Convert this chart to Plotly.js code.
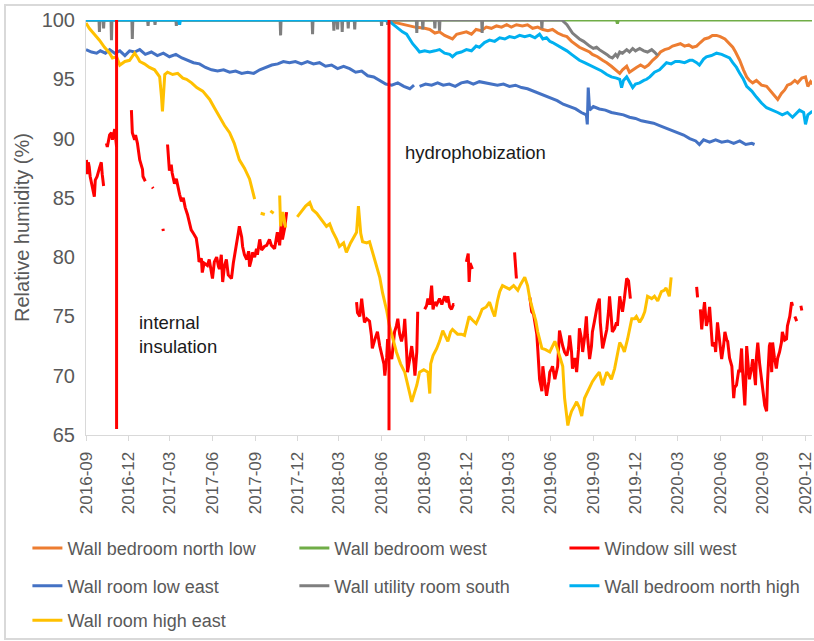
<!DOCTYPE html>
<html>
<head>
<meta charset="utf-8">
<script src="https://cdn.plot.ly/plotly-3.0.1.min.js"></script>
<style>
html,body{margin:0;padding:0;background:#fff;overflow:hidden;width:814px;height:641px;}
#chart{position:absolute;left:0;top:0;width:814px;height:641px;}
#frame{position:absolute;left:4px;top:4px;width:900px;height:632px;border:2px solid #d9d9d9;pointer-events:none;z-index:5;}
</style>
</head>
<body>
<div id="chart"></div>
<div id="frame"></div>
<script>
// ---- Data ----
const seriesNames = ['Wall bedroom north low','Wall bedroom west','Window sill west','Wall room low east','Wall utility room south','Wall bedroom north high','Wall room high east'];
const seriesColors = ['#ED7D31','#70AD47','#FF0000','#4472C4','#7F7F7F','#00B0F0','#FFC000'];

const orangeDates = ['2016-09-01','2018-06-17','2018-06-29','2018-07-21','2018-08-12','2018-09-02','2018-09-13','2018-09-24','2018-10-04','2018-10-15','2018-10-26','2018-11-01','2018-11-10','2018-11-20','2018-12-01','2018-12-12','2018-12-22','2019-01-02','2019-01-13','2019-01-24','2019-02-04','2019-02-15','2019-02-26','2019-03-08','2019-03-19','2019-04-01','2019-04-12','2019-04-23','2019-05-04','2019-05-15','2019-05-26','2019-06-05','2019-06-16','2019-06-27','2019-07-06','2019-07-16','2019-07-25','2019-08-02','2019-08-13','2019-08-24','2019-08-30','2019-09-10','2019-09-21','2019-09-30','2019-10-10','2019-10-19','2019-10-28','2019-11-03','2019-11-12','2019-11-18','2019-11-25','2019-12-03','2019-12-12','2019-12-21','2019-12-29','2020-01-07','2020-01-16','2020-01-24','2020-02-02','2020-02-11','2020-02-19','2020-02-27','2020-03-07','2020-03-16','2020-03-25','2020-04-02','2020-04-11','2020-04-19','2020-04-28','2020-05-07','2020-05-15','2020-05-24','2020-06-01','2020-06-11','2020-06-19','2020-06-28','2020-07-04','2020-07-13','2020-07-21','2020-07-28','2020-08-03','2020-08-10','2020-08-18','2020-08-29','2020-09-09','2020-09-17','2020-09-26','2020-10-03','2020-10-11','2020-10-18','2020-10-24','2020-10-31','2020-11-09','2020-11-15','2020-11-24','2020-12-02','2020-12-07','2020-12-13','2020-12-17'];
const orangeVals = [100,100,99.8,99.6,99.4,99.3,99.2,98.9,99.0,98.7,98.5,98.4,98.8,98.9,99.0,98.8,99.2,99.1,99.4,99.3,99.5,99.4,99.6,99.4,99.6,99.5,99.6,99.3,99.4,99.2,99.1,99.2,98.9,98.7,98.6,98.2,97.9,97.7,97.5,97.3,97.1,96.9,96.6,96.4,96.1,95.8,95.5,95.8,96.1,95.6,95.8,96.0,96.2,96.0,96.2,96.6,96.9,97.3,97.5,97.6,97.8,97.9,98.0,97.8,97.9,97.7,97.8,98.1,98.4,98.5,98.7,98.7,98.6,98.4,98.1,97.7,97.3,96.6,95.8,95.2,94.9,94.7,94.9,94.5,94.4,94.0,93.6,93.3,93.8,94.1,94.5,94.6,94.9,94.7,95.1,95.2,94.4,94.8,94.6];

const greenDates = ['2016-09-01','2019-10-21','2019-10-23','2019-10-25','2020-12-17'];
const greenVals = [100,100,99.7,100,100];

const redDates = ['2016-09-02','2016-09-04','2016-09-06','2016-09-08','2016-09-10','2016-09-15','2016-09-19','2016-09-21','2016-09-25','2016-09-30','2016-10-04','2016-10-06','2016-10-09','2016-10-12',
'2016-10-15','2016-10-17','2016-10-22','2016-10-26','2016-10-28','2016-11-02','2016-11-06','2016-11-20',
'2016-12-08','2016-12-10','2016-12-15','2016-12-17','2016-12-21','2016-12-26','2017-01-01','2017-01-02','2017-01-07','2017-01-15',
'2017-01-22','2017-01-24','2017-02-03',
'2017-02-14','2017-02-15','2017-02-20',
'2017-02-24','2017-02-26','2017-02-28','2017-03-04','2017-03-06','2017-03-11','2017-03-15','2017-03-22','2017-03-26','2017-03-30','2017-04-03','2017-04-08','2017-04-12','2017-04-16','2017-04-21','2017-04-27','2017-05-01','2017-05-03','2017-05-08','2017-05-10','2017-05-14','2017-05-21','2017-05-25','2017-06-01','2017-06-05','2017-06-10','2017-06-14','2017-06-16','2017-06-20','2017-06-23','2017-06-27','2017-07-01','2017-07-05','2017-07-12','2017-07-16','2017-07-20','2017-07-23','2017-07-27','2017-07-29','2017-08-03','2017-08-05','2017-08-09','2017-08-14','2017-08-18','2017-08-20','2017-08-24','2017-08-26','2017-08-31','2017-09-04','2017-09-06','2017-09-11','2017-09-15','2017-09-21','2017-09-26','2017-10-02','2017-10-06','2017-10-13','2017-10-17','2017-10-19','2017-10-24','2017-10-28','2017-10-30','2017-11-04','2017-11-08','2017-11-20',
'2018-04-08','2018-04-10','2018-04-15','2018-04-19','2018-04-21','2018-04-25','2018-04-30','2018-05-06','2018-05-10','2018-05-12','2018-05-17','2018-05-23','2018-05-28','2018-06-01','2018-06-06','2018-06-08','2018-06-12','2018-06-14','2018-06-18','2018-06-23','2018-06-27','2018-06-29','2018-07-03','2018-07-06','2018-07-10','2018-07-14','2018-07-19','2018-07-21','2018-07-25','2018-07-27','2018-08-01','2018-08-05','2018-08-10','2018-08-12','2018-08-16','2018-08-18','2018-08-25',
'2018-09-02','2018-09-06','2018-09-09','2018-09-13','2018-09-17','2018-09-20','2018-09-24','2018-09-28','2018-10-04','2018-10-09','2018-10-15','2018-10-20','2018-10-22','2018-10-26','2018-10-30','2018-11-03','2018-11-05','2018-11-15',
'2018-12-01','2018-12-03','2018-12-05','2018-12-07','2018-12-09','2018-12-14','2018-12-25',
'2019-03-15','2019-03-17','2019-03-19','2019-03-30',
'2019-04-17','2019-04-19','2019-04-21','2019-04-25','2019-04-27','2019-05-02','2019-05-04','2019-05-06','2019-05-08','2019-05-13','2019-05-15','2019-05-19','2019-05-23','2019-05-28','2019-05-30','2019-06-03','2019-06-05','2019-06-10','2019-06-12','2019-06-16','2019-06-20','2019-06-25','2019-06-27','2019-07-01','2019-07-06','2019-07-10','2019-07-12','2019-07-16','2019-07-18','2019-07-23','2019-07-27','2019-07-31','2019-08-02','2019-08-07','2019-08-09','2019-08-13','2019-08-17','2019-08-19','2019-08-24','2019-08-28','2019-08-30','2019-09-03','2019-09-08','2019-09-10','2019-09-14','2019-09-16','2019-09-21','2019-09-25','2019-09-30','2019-10-04','2019-10-06','2019-10-10','2019-10-12','2019-10-17','2019-10-21','2019-10-23','2019-10-28','2019-11-01','2019-11-03','2019-11-07','2019-11-12','2019-11-16','2019-11-18','2019-11-20','2019-12-10',
'2020-04-11','2020-04-13','2020-04-16',
'2020-04-19','2020-04-22','2020-04-24','2020-04-28','2020-05-02','2020-05-07','2020-05-09','2020-05-13','2020-05-15','2020-05-20','2020-05-22','2020-05-26','2020-05-31','2020-06-04','2020-06-08','2020-06-11','2020-06-15','2020-06-17','2020-06-21','2020-06-26','2020-06-30','2020-07-02','2020-07-06','2020-07-11','2020-07-13','2020-07-17','2020-07-19','2020-07-24','2020-07-26','2020-07-28','2020-08-01','2020-08-03','2020-08-08','2020-08-10','2020-08-14','2020-08-16','2020-08-18','2020-08-21','2020-08-25','2020-08-29','2020-09-02','2020-09-05','2020-09-09','2020-09-11','2020-09-15','2020-09-17','2020-09-20','2020-09-22','2020-09-26','2020-09-30','2020-10-03','2020-10-07','2020-10-11','2020-10-13','2020-10-18','2020-10-22','2020-10-24','2020-10-29','2020-11-02','2020-11-04','2020-11-06',
'2020-11-09','2020-11-13','2020-11-17',
'2020-11-22','2020-11-24'];
const redVals = [88.2,87.0,88.0,87.6,86.8,86.0,85.1,86.5,86.8,87.5,88.0,87.0,86.0,null,
89.6,89.3,90.3,90.5,89.9,90.8,89.3,null,
92.4,90.5,89.9,90.3,89.6,88.2,87.4,86.8,86.4,null,
85.9,85.8,null,
82.4,82.2,null,
89.5,88.5,87.3,87.8,87.1,86.2,86.6,85.3,84.7,85.0,84.2,83.6,82.9,82.3,82.0,81.6,80.5,79.6,79.9,78.7,79.5,79.3,79.8,78.2,79.6,80.0,79.2,79.0,80.2,77.9,79.3,79.8,78.5,78.2,79.5,80.6,81.3,82.1,82.6,81.7,80.9,80.2,79.8,80.5,79.2,79.8,80.4,80.0,80.7,80.2,81.5,80.6,80.9,81.0,81.5,81.0,80.7,81.6,82.1,81.0,83.2,81.5,82.5,83.8,null,
76.2,75.3,75.0,76.5,75.8,74.5,74.8,74.6,73.4,72.3,73.0,73.7,72.5,71.7,71.0,70.0,71.5,73.1,72.0,71.4,73.0,73.7,74.2,74.8,73.5,72.9,73.8,74.8,72.0,70.3,71.5,72.5,71.0,70.0,72.0,75.4,null,
75.6,75.9,76.5,76.0,77.6,75.6,76.2,76.0,76.5,76.0,76.7,76.2,76.7,75.8,75.6,76.0,76.0,null,
79.6,80.0,80.3,77.9,79.5,79.0,null,
80.4,79.5,78.2,null,
76.6,76.0,75.4,75.2,74.8,73.5,72.3,71.0,69.7,68.7,70.8,69.5,68.3,69.5,70.3,70.6,70.8,69.7,70.2,70.8,73.8,72.8,72.5,72.0,71.7,72.5,73.4,72.0,70.6,71.5,70.3,72.2,74.0,73.0,72.0,73.2,75.0,73.5,71.4,72.5,73.7,74.5,75.6,76.0,76.5,74.5,72.3,73.0,73.9,75.5,76.7,74.8,73.7,74.0,74.5,74.2,76.7,75.8,75.4,76.5,78.2,78.0,77.0,76.5,null,
77.5,76.6,null,
75.6,73.9,74.8,76.2,74.2,75.0,75.8,74.0,72.5,72.8,72.0,74.5,73.0,71.4,72.5,73.7,73.0,72.9,71.5,70.8,68.1,69.0,69.2,70.5,70.3,72.3,70.5,67.5,69.5,72.5,70.5,69.7,70.8,71.4,70.0,69.2,71.5,72.8,71.0,69.7,68.5,67.5,67.0,69.5,72.5,72.8,70.3,72.8,71.5,70.6,71.5,72.0,72.8,73.7,73.0,73.1,74.2,75.0,76.2,75.9,null,
75.0,74.6,null,
75.9,75.5];

const blueDates = ['2016-09-01','2016-09-13','2016-09-24','2016-10-02','2016-10-13','2016-10-22','2016-11-02','2016-11-13','2016-11-24','2016-12-04','2016-12-15','2016-12-26','2017-01-07','2017-01-20','2017-02-02','2017-02-15','2017-02-28','2017-03-14','2017-03-27','2017-04-08','2017-04-21','2017-05-04','2017-05-17','2017-05-30','2017-06-12','2017-06-25','2017-07-08','2017-07-21','2017-08-03','2017-08-16','2017-08-29','2017-09-11','2017-09-24','2017-10-07','2017-10-20','2017-11-01','2017-11-14','2017-11-27','2017-12-10','2017-12-23','2018-01-05','2018-01-18','2018-01-31','2018-02-13','2018-02-26','2018-03-11','2018-03-24','2018-04-06','2018-04-19','2018-05-02','2018-05-15','2018-05-28','2018-06-10','2018-06-23','2018-07-06','2018-07-19','2018-08-01','2018-08-10','2018-08-15','2018-08-22','2018-09-04','2018-09-17','2018-09-30','2018-10-12','2018-10-25','2018-11-07','2018-11-20','2018-12-03','2018-12-16','2018-12-29','2019-01-11','2019-01-24','2019-02-06','2019-02-19','2019-03-04','2019-03-17','2019-03-30','2019-04-12','2019-04-25','2019-05-08','2019-05-21','2019-06-03','2019-06-15','2019-06-28','2019-07-12','2019-07-25','2019-08-06','2019-08-17','2019-08-19','2019-08-21','2019-08-24','2019-09-01','2019-09-14','2019-09-27','2019-10-10','2019-10-23','2019-11-05','2019-11-18','2019-12-01','2019-12-14','2019-12-27','2020-01-09','2020-01-22','2020-02-04','2020-02-17','2020-03-01','2020-03-14','2020-03-27','2020-04-09','2020-04-17','2020-04-26','2020-05-09','2020-05-22','2020-06-04','2020-06-17','2020-06-30','2020-07-13','2020-07-26','2020-08-08','2020-08-14'];
const blueVals = [97.5,97.3,97.2,97.4,97.2,97.5,97.2,97.4,97.0,97.4,97.3,97.5,97.1,97.3,97.0,97.2,96.9,97.1,96.8,96.6,96.4,96.3,96.0,95.8,95.7,95.8,95.6,95.7,95.5,95.6,95.5,95.8,96.0,96.2,96.3,96.5,96.4,96.5,96.3,96.5,96.3,96.4,96.1,96.2,95.9,96.1,95.9,95.6,95.7,95.3,95.2,94.9,94.6,94.5,94.7,94.4,94.2,94.5,null,94.4,94.6,94.5,94.7,94.5,94.6,94.4,94.7,94.8,94.6,94.8,94.7,94.6,94.5,94.6,94.4,94.5,94.3,94.2,94.0,93.8,93.6,93.4,93.2,92.9,92.7,92.5,92.2,92.0,91.2,94.3,92.4,92.7,92.5,92.4,92.2,92.1,92.0,91.8,91.7,91.5,91.4,91.3,91.1,90.9,90.7,90.5,90.3,90.0,89.8,89.5,89.9,89.7,89.9,89.7,89.8,89.6,89.8,89.5,89.6,89.5];

const greyDates = ['2016-09-01','2016-09-29','2016-09-30','2016-10-01','2016-10-08','2016-10-09','2016-10-10','2016-10-25','2016-10-26','2016-10-27','2016-12-09','2016-12-10','2016-12-11','2017-01-12','2017-01-13','2017-01-14','2017-01-27','2017-01-28','2017-01-29','2017-03-14','2017-03-15','2017-03-16','2017-10-25','2017-10-26','2017-10-27','2018-01-02','2018-01-03','2018-01-04','2018-02-17','2018-02-18','2018-02-19','2018-02-25','2018-02-26','2018-02-27','2018-03-07','2018-03-08','2018-03-09','2018-03-20','2018-03-21','2018-03-22','2018-04-03','2018-04-04','2018-04-05','2018-05-31','2018-06-01','2018-06-02','2018-06-13','2018-06-14','2018-06-15','2018-08-15','2018-08-16','2018-08-17','2018-08-28','2018-08-29','2018-08-30','2018-09-23','2018-09-24','2018-09-25','2018-10-03','2018-10-04','2018-10-05','2019-01-03','2019-01-04','2019-01-05','2019-05-12','2019-05-13','2019-05-14','2019-06-25','2019-07-06','2019-07-12','2019-07-18','2019-07-27','2019-08-02','2019-08-11','2019-08-17','2019-08-24','2019-09-01','2019-09-08','2019-09-14','2019-09-23','2019-09-30','2019-10-06','2019-10-12','2019-10-19','2019-10-23','2019-10-28','2019-11-03','2019-11-12','2019-11-18','2019-11-25','2019-12-01','2019-12-10','2019-12-19','2019-12-27','2020-01-05','2020-01-11','2020-01-18'];
const greyVals = [100,100,99.0,100,100,99.3,100,100,98.3,100,100,98.4,100,100,99.5,100,100,99.6,100,100,99.5,100,100,98.7,100,100,98.8,100,100,99.1,100,100,99.2,100,100,99.0,100,100,99.3,100,100,99.2,100,100,99.5,100,100,99.6,100,100,98.9,100,100,99.2,100,100,99.3,100,100,99.1,100,100,98.9,100,100,99.3,100,100,99.6,99.2,98.9,98.6,98.4,98.2,98.0,97.8,97.6,97.7,97.5,97.3,97.1,96.9,96.8,97.1,96.9,97.3,97.2,97.5,97.3,97.6,97.4,97.6,97.4,97.3,97.5,97.3,97.0];

const lightBlueDates = ['2016-09-01','2017-03-20','2017-03-22','2017-03-24','2018-06-07','2018-06-18','2018-06-24','2018-07-03','2018-07-10','2018-07-16','2018-07-25','2018-08-01','2018-08-07','2018-08-16','2018-08-22','2018-09-02','2018-09-13','2018-09-24','2018-10-04','2018-10-15','2018-10-26','2018-11-01','2018-11-10','2018-11-20','2018-12-01','2018-12-12','2018-12-22','2018-12-29','2019-01-09','2019-01-20','2019-01-31','2019-02-11','2019-02-22','2019-03-04','2019-03-15','2019-03-26','2019-04-06','2019-04-17','2019-04-28','2019-05-08','2019-05-15','2019-05-23','2019-05-30','2019-06-05','2019-06-14','2019-06-25','2019-07-06','2019-07-16','2019-07-25','2019-08-02','2019-08-13','2019-08-24','2019-08-30','2019-09-08','2019-09-19','2019-09-30','2019-10-10','2019-10-21','2019-10-28','2019-11-01','2019-11-05','2019-11-12','2019-11-18','2019-11-25','2019-12-01','2019-12-10','2019-12-19','2019-12-25','2020-01-01','2020-01-11','2020-01-22','2020-01-29','2020-02-06','2020-02-16','2020-02-25','2020-03-05','2020-03-16','2020-03-27','2020-04-02','2020-04-11','2020-04-17','2020-04-26','2020-05-02','2020-05-13','2020-05-24','2020-06-04','2020-06-15','2020-06-21','2020-06-28','2020-07-06','2020-07-13','2020-07-21','2020-07-28','2020-08-08','2020-08-18','2020-08-29','2020-09-09','2020-09-22','2020-10-03','2020-10-13','2020-10-24','2020-11-04','2020-11-13','2020-11-19','2020-11-28','2020-12-02','2020-12-07','2020-12-13','2020-12-17'];
const lightBlueVals = [100,100,99.6,100,100,99.9,99.7,99.4,99.2,99.0,98.8,98.4,98.0,97.6,97.3,97.4,97.3,97.4,97.5,97.2,97.1,96.9,97.2,97.3,97.5,97.4,97.8,97.7,98.1,98.3,98.2,98.5,98.4,98.6,98.5,98.7,98.6,98.7,98.5,98.8,98.4,98.5,98.2,98.1,97.9,97.6,97.4,97.1,96.8,96.6,96.4,96.2,96.1,95.9,95.7,95.4,95.2,95.1,95.0,94.3,94.9,95.2,94.8,94.3,94.6,94.7,94.9,95.0,95.2,95.6,95.8,96.1,96.4,96.3,96.5,96.5,96.4,96.6,96.6,96.4,96.2,96.7,96.9,97.0,97.2,97.1,96.9,96.8,96.4,96.0,95.5,95.0,94.4,94.0,93.5,93.0,92.6,92.4,92.2,92.0,92.2,91.8,92.2,92.4,92.2,91.2,92.0,92.2,92.3];

const yellowDates = ['2016-09-01','2016-09-08','2016-09-19','2016-09-30','2016-10-11','2016-10-22','2016-10-28','2016-11-06','2016-11-13','2016-11-24','2016-12-04','2016-12-15','2016-12-22','2016-12-26','2017-01-05','2017-01-16','2017-01-27','2017-02-07','2017-02-11','2017-02-13','2017-02-18','2017-02-24','2017-03-07','2017-03-18','2017-03-29','2017-04-06','2017-04-17','2017-04-28','2017-05-11','2017-05-20','2017-05-26','2017-06-05','2017-06-16','2017-06-27','2017-07-08','2017-07-18','2017-07-29','2017-08-09','2017-08-20','2017-08-26','2017-08-31','2017-09-04',
'2017-09-13','2017-09-22','2017-09-27',
'2017-10-04','2017-10-11','2017-10-16',
'2017-10-24','2017-10-26','2017-10-31','2017-11-06','2017-11-15',
'2017-12-01','2017-12-10','2017-12-19','2017-12-28','2018-01-03','2018-01-12','2018-01-18','2018-01-27','2018-02-02','2018-02-09','2018-02-15','2018-02-24','2018-03-02','2018-03-11','2018-03-17','2018-03-26','2018-04-04','2018-04-08','2018-04-12','2018-04-17','2018-04-21','2018-04-30','2018-05-06','2018-05-15','2018-05-21','2018-05-28','2018-06-03','2018-06-12','2018-06-18','2018-06-27','2018-07-03','2018-07-12','2018-07-21','2018-07-30','2018-08-05','2018-08-12','2018-08-16','2018-08-22','2018-08-31','2018-09-09','2018-09-13','2018-09-15','2018-09-20','2018-09-28','2018-10-04','2018-10-11','2018-10-17','2018-10-22','2018-10-28','2018-11-01','2018-11-12','2018-11-20','2018-11-27','2018-12-03','2018-12-07','2018-12-14','2018-12-22','2018-12-29','2019-01-04','2019-01-13','2019-01-20','2019-01-26','2019-01-31','2019-02-06','2019-02-11','2019-02-17','2019-02-26','2019-03-04','2019-03-13','2019-03-22','2019-03-28','2019-04-06','2019-04-12','2019-04-17','2019-04-23','2019-04-30','2019-05-04','2019-05-13','2019-05-21','2019-05-30','2019-06-05','2019-06-10','2019-06-16','2019-06-20','2019-06-27','2019-07-01','2019-07-08','2019-07-12','2019-07-16','2019-07-23','2019-07-27','2019-08-02','2019-08-07','2019-08-13','2019-08-22','2019-08-30','2019-09-06','2019-09-14','2019-09-21','2019-09-30','2019-10-06','2019-10-10','2019-10-17','2019-10-21','2019-10-28','2019-11-03','2019-11-07','2019-11-14','2019-11-23','2019-11-29','2019-12-03','2019-12-10','2019-12-16','2019-12-21','2019-12-27','2020-01-05','2020-01-11','2020-01-18','2020-01-26','2020-02-01','2020-02-05','2020-02-12','2020-02-16'];
const yellowVals = [99.75,99.3,98.8,98.3,97.7,97.2,96.8,96.9,96.2,96.5,96.6,97.2,96.8,96.5,96.3,96.0,95.8,95.2,93.5,92.3,95.4,95.6,95.4,95.5,95.1,95.0,94.7,94.3,94.0,93.6,93.3,92.6,91.8,91.1,90.5,89.6,88.2,87.5,86.6,85.6,84.9,null,
83.7,83.6,null,
83.9,83.7,null,
85.2,82.6,83.8,82.5,null,
83.4,83.9,84.3,84.6,84.0,83.7,83.4,83.0,82.6,82.8,82.2,81.5,80.9,81.2,80.4,81.2,81.8,82.1,84.3,82.0,81.3,81.2,81.3,80.0,79.2,78.3,77.0,75.5,74.2,72.8,72.0,71.0,70.3,68.8,67.8,68.7,69.2,70.3,70.5,70.3,68.5,71.0,71.7,72.3,72.9,73.8,73.3,72.9,73.7,73.9,73.5,73.5,73.4,74.4,75.0,74.7,74.4,75.0,75.6,75.8,76.2,75.5,75.0,76.3,77.1,77.6,77.4,77.3,77.6,77.2,77.7,78.3,77.6,76.5,75.6,74.6,73.7,72.3,72.2,72.0,72.5,72.9,72.2,71.7,70.8,68.1,65.8,66.5,67.0,67.5,67.8,67.3,66.6,68.1,68.8,69.5,69.9,70.3,69.2,70.3,70.0,69.7,70.6,71.4,72.8,72.4,72.0,73.1,74.8,74.8,75.0,74.5,74.9,75.4,76.7,76.5,76.7,76.3,77.1,77.2,77.4,76.7,78.3];

// intervention markers (vertical lines) and their labels
const eventDates = ['2016-11-06','2018-06-17'];
const eventTop = [100,100];
const eventBottom = [65.5,65.4];
const noteTexts = ['internal<br>insulation','hydrophobization'];
const noteDates = ['2016-12-19','2018-07-17'];
const noteVals = [73.5,88.85];

const xTickStart = '2016-09-01';
const xRange = ['2016-09-01','2020-12-16'];
const yRange = [65,100];

// ---- Build traces ----
const allX = [orangeDates, greenDates, redDates, blueDates, greyDates, lightBlueDates, yellowDates];
const allY = [orangeVals, greenVals, redVals, blueVals, greyVals, lightBlueVals, yellowVals];
const legendIds = ['legend','legend2','legend3','legend4','legend5','legend6','legend7'];

const traces = seriesNames.map((name, i) => ({
  type: 'scatter', mode: 'lines', name: name,
  x: allX[i], y: allY[i], connectgaps: false,
  line: {color: seriesColors[i], width: 3},
  legend: legendIds[i], hoverinfo: 'skip'
}));

const evX = [], evY = [];
eventDates.forEach((d, i) => { evX.push(d, d, null); evY.push(eventTop[i], eventBottom[i], null); });
traces.push({type:'scatter', mode:'lines', x: evX, y: evY, showlegend:false,
  line:{color:'#FF0000', width:3}, hoverinfo:'skip'});

// legend grid: 3 columns x 3 rows below the axis
const colX = [-0.0807, 0.287, 0.659];
const rowY = [-0.273, -0.364, -0.447];

const layout = {
  width: 814, height: 641,
  margin: {l:86, r:2, t:20, b:204},
  paper_bgcolor: 'rgba(0,0,0,0)', plot_bgcolor: 'rgba(0,0,0,0)',
  font: {family:'Liberation Sans, Arial, sans-serif', color:'#595959'},
  showlegend: true,
  xaxis: {
    type:'date', range: xRange, tick0: xTickStart, dtick:'M3', tickformat:'%Y-%m',
    tickangle:-90, ticks:'outside', ticklen:5, tickcolor:'#d9d9d9', tickwidth:1,
    showline:true, linecolor:'#d9d9d9', linewidth:1, showgrid:false, zeroline:false,
    tickfont:{size:17, color:'#595959'}, ticklabelstandoff:4, ticklabeloverflow:'allow', fixedrange:true
  },
  yaxis: {
    range: yRange, tick0:65, dtick:5, ticks:'', showline:true, linecolor:'#d9d9d9', linewidth:1,
    showgrid:false, zeroline:false, tickfont:{size:20, color:'#595959'}, ticklabelstandoff:6,
    title:{text:'Relative humidity (%)', font:{size:20, color:'#595959'}, standoff:6}, fixedrange:true
  },
  annotations: noteTexts.map((t, i) => ({
    text: t, x: noteDates[i], y: noteVals[i], xref:'x', yref:'y', showarrow:false,
    xanchor:'left', yanchor:'middle', align:'left',
    font:{family:'Liberation Sans, Arial, sans-serif', size:18.5, color:'#1a1a1a'}
  }))
};
legendIds.forEach((id, i) => {
  layout[id] = {orientation:'h', xanchor:'left', yanchor:'middle',
    x: colX[i % 3], y: rowY[Math.floor(i / 3)], bgcolor:'rgba(0,0,0,0)',
    font:{family:'Liberation Sans, Arial, sans-serif', size:18, color:'#595959'}};
});

Plotly.newPlot('chart', traces, layout, {displayModeBar:false, staticPlot:true});
</script>
</body>
</html>
